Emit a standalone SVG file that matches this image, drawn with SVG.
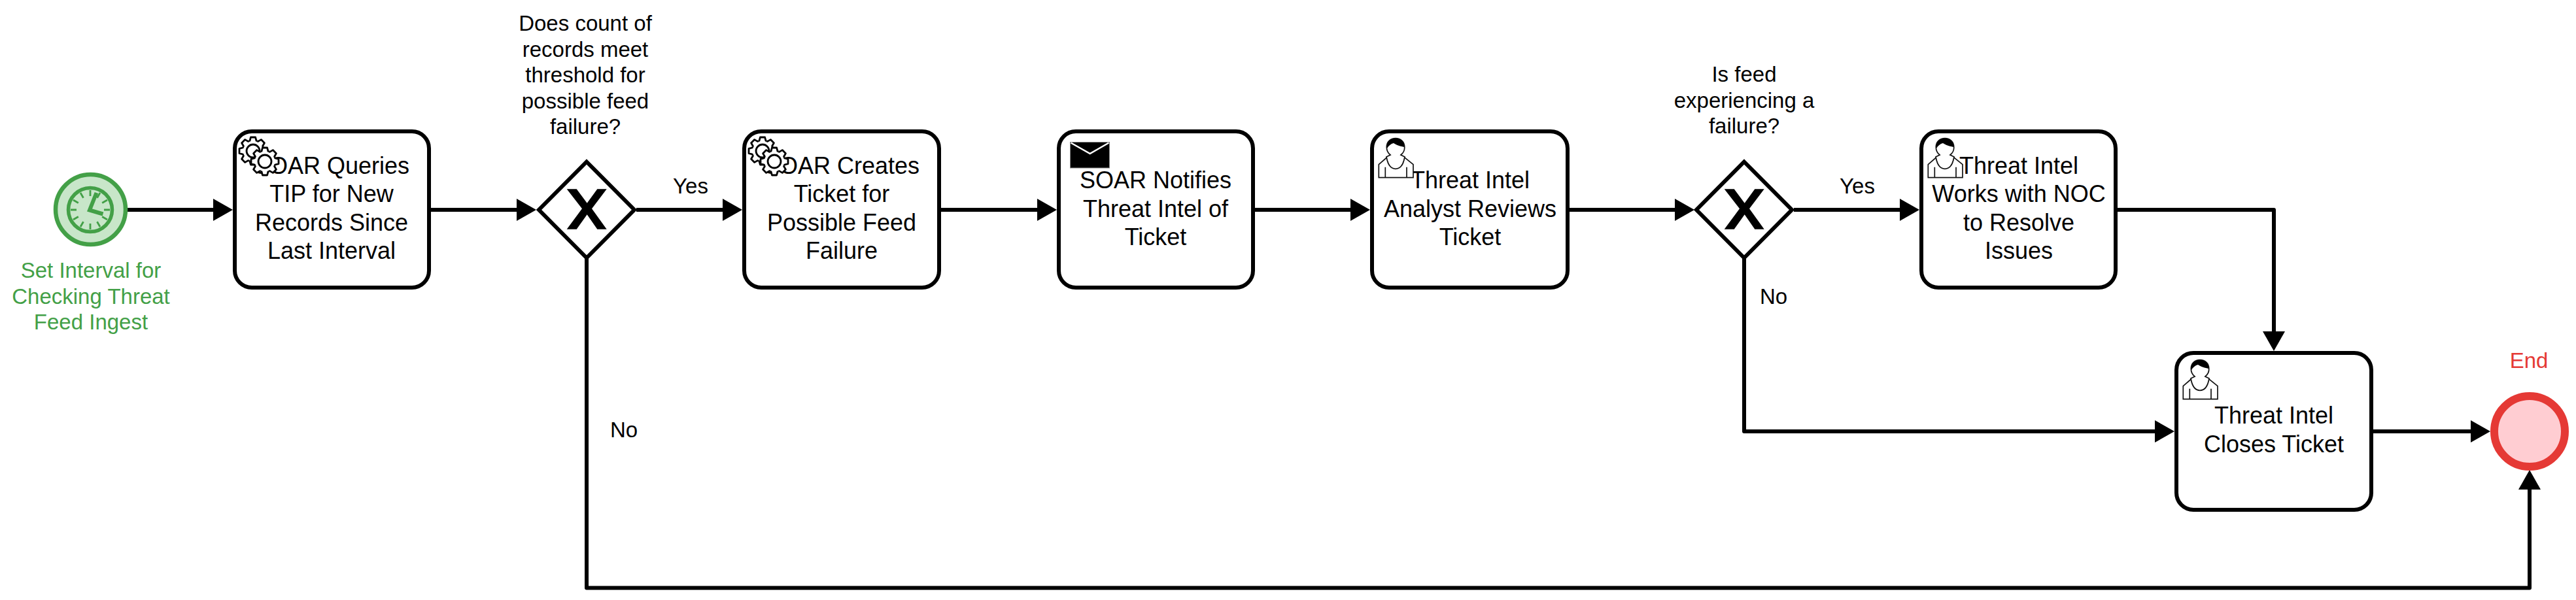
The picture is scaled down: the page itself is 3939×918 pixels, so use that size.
<svg xmlns="http://www.w3.org/2000/svg" xmlns:xlink="http://www.w3.org/1999/xlink" width="3939" height="918" viewBox="0 0 3939 918">
<style>
text{font-family:"Liberation Sans",Arial,sans-serif;text-anchor:middle;fill:#000}
.t{font-size:36px}
.l{font-size:33px}
.task{fill:#fff;stroke:#000;stroke-width:6}
.gw{fill:#fff;stroke:#000;stroke-width:6;stroke-linejoin:miter}
.edge{fill:none;stroke:#000;stroke-width:6;stroke-linejoin:round;marker-end:url(#arrow)}
.gear{fill:#fff;stroke:#000;stroke-width:2.8;stroke-linejoin:round}
.pers{fill:#fff;stroke:#111;stroke-width:1.7}
</style>
<defs>
<marker id="arrow" markerUnits="userSpaceOnUse" markerWidth="40" markerHeight="40" refX="20" refY="17" orient="auto"><path d="M0 0L30 17L0 34Z" fill="#000"/></marker>
<polygon id="xmark" points="866.7,289.3 881.7,289.3 897.7,310.7 913.3,289.3 927.7,289.3 905,319.3 927.7,350.7 913.3,350.7 897.7,328.3 881.7,350.7 866.7,350.7 890,319.3" fill="#000"/>
<path id="tooth" d="M-6.3-15.2L-5-15.7L-3.6-21H3.6L5-15.7L6.3-15.2" class="gear"/>
<g id="gear">
<circle r="16" fill="#fff"/>
<use xlink:href="#tooth" href="#tooth"/>
<use xlink:href="#tooth" href="#tooth" transform="rotate(45)"/>
<use xlink:href="#tooth" href="#tooth" transform="rotate(90)"/>
<use xlink:href="#tooth" href="#tooth" transform="rotate(135)"/>
<use xlink:href="#tooth" href="#tooth" transform="rotate(180)"/>
<use xlink:href="#tooth" href="#tooth" transform="rotate(225)"/>
<use xlink:href="#tooth" href="#tooth" transform="rotate(270)"/>
<use xlink:href="#tooth" href="#tooth" transform="rotate(315)"/>
<circle r="10" class="gear"/>
</g>
<g id="gears">
<use xlink:href="#gear" href="#gear" transform="translate(387 231)"/>
<use xlink:href="#gear" href="#gear" transform="translate(405 247)"/>
</g>
<g id="person">
<path class="pers" d="M36.7 50L23.3 61.7V81.7H76V61.7L61.7 50Z"/>
<path class="pers" d="M35 50C37 62 42 68.3 49 68.3C56 68.3 61 62 63 50L57 47C61 44 63 40 62.7 35C62.7 27 57 21.7 49 21.7C41 21.7 35.3 27 35.3 35C35.3 40 37 44 41 47Z"/>
<path fill="#000" d="M36 37C34 27 41 21.7 49 21.7C57 21.7 63 27 62.3 35C57 34 50 32 46 29C42 30 38 33 36 37Z"/>
<path fill="none" stroke="#111" stroke-width="1.7" d="M33.3 65.7V81.7M66 65.7V81.7"/>
</g>
</defs>
<rect width="3939" height="918" fill="#fff"/>
<g id="connectors">
<path class="edge" d="M195 321H346"/>
<path class="edge" d="M659 321H810"/>
<path class="edge" d="M973 321H1125"/>
<path class="edge" d="M1439 321H1606"/>
<path class="edge" d="M1918 321H2085"/>
<path class="edge" d="M2400 321H2581"/>
<path class="edge" d="M2743 321H2925"/>
<path class="edge" d="M3238 321H3477V527"/>
<path class="edge" d="M2667 394V660H3315"/>
<path class="edge" d="M3629 660H3798"/>
<path class="edge" d="M897 394V899.500H3868V729"/>
</g>
<g id="start">
<circle cx="138.500" cy="320.500" r="53.500" fill="#c8e6c9" stroke="#43a047" stroke-width="6.500"/>
<circle cx="138" cy="321" r="33.500" fill="#c8e6c9" stroke="#43a047" stroke-width="5.500"/>
<path fill="none" stroke="#43a047" stroke-width="2.800" d="M138 291V300M138 342V351M108 321H117M159 321H168M123 295L127.500 302.800M148.500 339.200L153 347M112 306L119.800 310.500M156.200 331.500L164 336M112 336L119.800 331.500M156.200 310.500L164 306M123 347L127.500 339.200M148.500 302.800L153 295"/>
<path fill="none" stroke="#43a047" stroke-width="6" d="M147.500 295L137 321.500L157.500 327.500"/>
<text class="l" x="139" y="425" style="fill:#43a047">Set Interval for</text>
<text class="l" x="139" y="464.500" style="fill:#43a047">Checking Threat</text>
<text class="l" x="139" y="504" style="fill:#43a047">Feed Ingest</text>
</g>
<g id="task1">
<rect class="task" x="359" y="201" width="297" height="239" rx="26"/>
<text class="t" x="507" y="266">SOAR Queries</text>
<text class="t" x="507" y="309">TIP for New</text>
<text class="t" x="507" y="352.500">Records Since</text>
<text class="t" x="507" y="396">Last Interval</text>
<use xlink:href="#gears" href="#gears"/>
</g>
<g id="gateway1">
<polygon class="gw" points="897,247.500 970,321 897,394.500 824,321"/>
<use xlink:href="#xmark" href="#xmark"/>
<text class="l" x="895" y="47">Does count of</text>
<text class="l" x="895" y="86.500">records meet</text>
<text class="l" x="895" y="126">threshold for</text>
<text class="l" x="895" y="165.500">possible feed</text>
<text class="l" x="895" y="205">failure?</text>
</g>
<g id="label-yes1"><text class="l" x="1056" y="296">Yes</text></g>
<g id="label-no1"><text class="l" x="954" y="669">No</text></g>
<g id="task2">
<rect class="task" x="1138" y="201" width="298" height="239" rx="26"/>
<text class="t" x="1287" y="266">SOAR Creates</text>
<text class="t" x="1287" y="309">Ticket for</text>
<text class="t" x="1287" y="352.500">Possible Feed</text>
<text class="t" x="1287" y="396">Failure</text>
<use xlink:href="#gears" href="#gears" x="779"/>
</g>
<g id="task3">
<rect class="task" x="1619" y="201" width="297" height="239" rx="26"/>
<text class="t" x="1767" y="288">SOAR Notifies</text>
<text class="t" x="1767" y="331.500">Threat Intel of</text>
<text class="t" x="1767" y="375">Ticket</text>
<rect x="1636.500" y="217.500" width="60" height="39.500" fill="#000" stroke="#888" stroke-width="1"/>
<path d="M1637.500 218.500L1666.700 235L1695.500 218.500" fill="none" stroke="#fff" stroke-width="2.500"/>
</g>
<g id="task4">
<rect class="task" x="2098" y="201" width="299" height="239" rx="26"/>
<text class="t" x="2248" y="288">Threat Intel</text>
<text class="t" x="2248" y="331.500">Analyst Reviews</text>
<text class="t" x="2248" y="375">Ticket</text>
<use xlink:href="#person" href="#person" transform="translate(2085 190)"/>
</g>
<g id="gateway2">
<polygon class="gw" points="2667,247.500 2740,321 2667,394.500 2594,321"/>
<use xlink:href="#xmark" href="#xmark" x="1770"/>
<text class="l" x="2667" y="125">Is feed</text>
<text class="l" x="2667" y="164.500">experiencing a</text>
<text class="l" x="2667" y="204">failure?</text>
</g>
<g id="label-yes2"><text class="l" x="2840" y="296">Yes</text></g>
<g id="label-no2"><text class="l" x="2712" y="465">No</text></g>
<g id="task5">
<rect class="task" x="2938" y="201" width="297" height="239" rx="26"/>
<text class="t" x="3087" y="266">Threat Intel</text>
<text class="t" x="3087" y="309">Works with NOC</text>
<text class="t" x="3087" y="352.500">to Resolve</text>
<text class="t" x="3087" y="396">Issues</text>
<use xlink:href="#person" href="#person" transform="translate(2925 190)"/>
</g>
<g id="task6">
<rect class="task" x="3328" y="540" width="298" height="240" rx="26"/>
<text class="t" x="3477" y="648">Threat Intel</text>
<text class="t" x="3477" y="691.500">Closes Ticket</text>
<use xlink:href="#person" href="#person" transform="translate(3315 529)"/>
</g>
<g id="end">
<circle cx="3868" cy="660" r="54" fill="#ffcdd2" stroke="#e53935" stroke-width="12"/>
<text class="l" x="3867" y="563" style="fill:#e53935">End</text>
</g>
</svg>
